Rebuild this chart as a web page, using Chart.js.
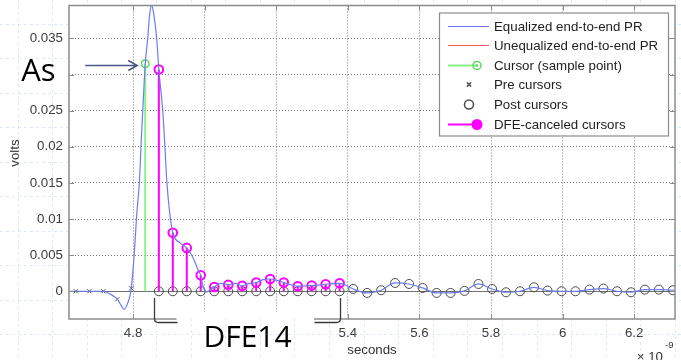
<!DOCTYPE html>
<html>
<head>
<meta charset="utf-8">
<script src="https://cdn.jsdelivr.net/npm/chart.js@4"></script>
<style>
html,body{margin:0;padding:0;background:#fff;}
#wrap{position:relative;width:681px;height:360px;}
</style>
</head>
<body>
<div id="wrap"><canvas id="prChart"></canvas></div>
<script>
// axes
const xTickValues = [4.8, 5, 5.2, 5.4, 5.6, 5.8, 6, 6.2];
const xTickLabels = ['4.8', '5', '5.2', '5.4', '5.6', '5.8', '6', '6.2'];
const yTickValues = [0, 0.005, 0.01, 0.015, 0.02, 0.025, 0.03, 0.035];
const yTickLabels = ['0', '0.005', '0.01', '0.015', '0.02', '0.025', '0.03', '0.035'];
const xRange = [4.621, 6.314];
const yRange = [-0.00384, 0.03956];

// equalized pulse response (ns, volts)
const eqTimes = [4.621, 4.640, 4.678, 4.717, 4.736, 4.756, 4.767, 4.775, 4.786, 4.795, 4.804, 4.810, 4.818,
  4.822, 4.827, 4.834, 4.841, 4.846, 4.852, 4.857, 4.866, 4.872, 4.883, 4.889, 4.894, 4.902, 4.911, 4.931,
  4.950, 4.968, 4.982, 4.989, 4.996, 5.006, 5.015, 5.027, 5.045, 5.066, 5.085, 5.105, 5.124, 5.144, 5.163,
  5.183, 5.202, 5.221, 5.241, 5.260, 5.299, 5.338, 5.377, 5.396, 5.415, 5.454, 5.493, 5.532, 5.571, 5.609,
  5.648, 5.687, 5.726, 5.765, 5.803, 5.842, 5.881, 5.920, 5.958, 5.997, 6.036, 6.075, 6.114, 6.152, 6.191,
  6.230, 6.269, 6.308, 6.320];
const eqVolts = [0, 0, 0, 0, -0.0004, -0.0011, -0.0020, -0.0025, -0.0015, 0.0004, 0.0057, 0.0105, 0.0154,
  0.0200, 0.0249, 0.0315, 0.0350, 0.0382, 0.0396, 0.0386, 0.0350, 0.0307, 0.0249, 0.0200, 0.0154, 0.0110, 0.0081, 0.0067,
  0.0060, 0.0046, 0.0029, 0.0022, 0.0006, -0.0001, 0.0002, 0.0006, 0.0011, 0.0009, 0.0011, 0.00075, 0.0011, 0.0012, 0.0016,
  0.0017, 0.0015, 0.0012, 0.0009, 0.0007, 0.0008, 0.00097, 0.0011, 0.0008, 0.00032, -0.00023, 0.00014, 0.00115, 0.00101, 0.00046,
  -0.00023, -0.00023, 0.00005, 0.00101, 0.00032, -0.00014, 0, 0.00055, 0.00009, 0, 0, 0.00023, 0.00037, 0, -0.00014,
  0.00023, 0.00023, 0.00014, 0.0001];

// sampled cursors
const preTimes = [4.640, 4.678, 4.717, 4.756, 4.795];
const preVolts = [0, 0, 0, -0.0011, 0.0004];
const cursorTimes = [4.834];
const cursorVolts = [0.0315];
const dfeTimes = [4.872, 4.911, 4.950, 4.989, 5.027, 5.066, 5.105, 5.144, 5.183, 5.221, 5.260, 5.299, 5.338, 5.377];
const dfeVolts = [0.0307, 0.0081, 0.0060, 0.0022, 0.0006, 0.0009, 0.00075, 0.0012, 0.0017, 0.0012, 0.0007, 0.0008, 0.00097, 0.0011];
const postTimes = [4.872, 4.911, 4.950, 4.989, 5.027, 5.066, 5.105, 5.144, 5.183, 5.221, 5.260, 5.299, 5.338, 5.377,
  5.415, 5.454, 5.493, 5.532, 5.571, 5.609, 5.648, 5.687, 5.726, 5.765, 5.803, 5.842, 5.881, 5.920, 5.958, 5.997,
  6.036, 6.075, 6.114, 6.152, 6.191, 6.230, 6.269, 6.308];
const postVolts = [0, 0, 0, 0, 0, 0, 0, 0, 0, 0, 0, 0, 0, 0,
  0.00032, -0.00023, 0.00014, 0.00115, 0.00101, 0.00046, -0.00023, -0.00023, 0.00005, 0.00101, 0.00032, -0.00014, 0, 0.00055, 0.00009, 0,
  0, 0.00023, 0.00037, 0, -0.00014, 0.00023, 0.00023, 0.00014];

const pts = (ts, vs) => ts.map((t, i) => ({x: t, y: vs[i]}));
const stems = (ts, vs) => ts.flatMap((t, i) => [{x: t, y: 0}, {x: t, y: vs[i]}, {x: t, y: null}]);
const FONT = '"Liberation Sans", Arial, sans-serif';

const overlay = {
  id: 'overlay',
  beforeDatasetsDraw(chart) {
    const {ctx, chartArea: a, scales: {y}} = chart;
    const y0 = Math.round(y.getPixelForValue(0)) + 0.5;
    ctx.save();
    ctx.strokeStyle = '#707070';
    ctx.lineWidth = 1;
    ctx.beginPath(); ctx.moveTo(a.left, y0); ctx.lineTo(a.right, y0); ctx.stroke();
    ctx.restore();
  },
  afterDraw(chart) {
    const {ctx, chartArea: a, scales: {x, y}} = chart;
    ctx.save();

    // axes box and inward ticks
    ctx.strokeStyle = '#8c8c8c';
    ctx.lineWidth = 1.5;
    ctx.strokeRect(a.left, a.top, a.right - a.left, a.bottom - a.top);
    ctx.lineWidth = 1;
    ctx.beginPath();
    xTickValues.forEach(v => {
      const px = Math.round(x.getPixelForValue(v)) + 0.5;
      ctx.moveTo(px, a.bottom); ctx.lineTo(px, a.bottom - 5);
      ctx.moveTo(px, a.top); ctx.lineTo(px, a.top + 5);
    });
    yTickValues.forEach(v => {
      const py = Math.round(y.getPixelForValue(v)) + 0.5;
      ctx.moveTo(a.left, py); ctx.lineTo(a.left + 5, py);
      ctx.moveTo(a.right, py); ctx.lineTo(a.right - 5, py);
    });
    ctx.stroke();

    // y axis label
    ctx.save();
    ctx.translate(15, 153);
    ctx.rotate(-Math.PI / 2);
    ctx.fillStyle = '#333';
    ctx.font = '13.3px ' + FONT;
    ctx.textAlign = 'center';
    ctx.textBaseline = 'middle';
    ctx.fillText('volts', 0, 0);
    ctx.restore();

    // legend
    const lw = 229, lh = 123, lx = a.right - 7 - lw, ly = a.top + 7;
    ctx.fillStyle = '#fff';
    ctx.fillRect(lx, ly, lw, lh);
    ctx.strokeStyle = '#8c8c8c';
    ctx.lineWidth = 1.2;
    ctx.strokeRect(lx + 0.5, ly + 0.5, lw, lh);
    ctx.font = '13.3px ' + FONT;
    ctx.textBaseline = 'middle';
    ctx.textAlign = 'left';
    chart.data.datasets.forEach((ds, i) => {
      const cy = Math.round(ly + 13 + i * 19.6) + 0.5;
      const x1 = lx + 9, x2 = lx + 50;
      if (ds.showLine !== false) {
        ctx.strokeStyle = ds.borderColor;
        ctx.lineWidth = ds.stem ? ds.borderWidth : 1;
        ctx.beginPath(); ctx.moveTo(x1, cy); ctx.lineTo(ds.stem ? x2 - 12 : x2, cy); ctx.stroke();
      }
      if (ds.stem) {
        const mx = x2 - 12;
        ctx.strokeStyle = ds.pointBorderColor;
        ctx.fillStyle = ds.legendFill;
        ctx.lineWidth = ds.pointBorderWidth;
        ctx.beginPath(); ctx.arc(mx, cy, ds.legendRadius, 0, Math.PI * 2); ctx.fill(); ctx.stroke();
        ctx.fillStyle = ds.pointBorderColor;
        ctx.beginPath(); ctx.arc(mx, cy, 1.3, 0, Math.PI * 2); ctx.fill();
      } else if (ds.showLine === false) {
        ctx.strokeStyle = ds.pointBorderColor;
        ctx.fillStyle = 'rgba(0,0,0,0)';
        Chart.helpers.drawPoint(ctx, {pointStyle: ds.pointStyle, radius: ds.legendRadius, borderWidth: 1, rotation: 0}, lx + 30, cy);
      }
      ctx.fillStyle = '#222';
      ctx.fillText(ds.label, lx + 55, cy + 1);
    });

    // "As" arrow pointing at the main cursor
    const cx = x.getPixelForValue(cursorTimes[0]);
    const cyc = y.getPixelForValue(cursorVolts[0]);
    const tipX = cx - 8, tipY = Math.round(cyc) + 1.5;
    ctx.fillStyle = '#fff';
    ctx.fillRect(tipX - 120, tipY - 16, 50, 38);
    ctx.strokeStyle = '#4d5786';
    ctx.lineWidth = 1.5;
    ctx.beginPath();
    ctx.moveTo(tipX - 52, tipY); ctx.lineTo(tipX, tipY);
    ctx.moveTo(tipX - 9, tipY - 5); ctx.lineTo(tipX, tipY); ctx.lineTo(tipX - 9, tipY + 5);
    ctx.stroke();
    ctx.fillStyle = '#000';
    ctx.font = '31px "Open Sans", sans-serif';
    ctx.textBaseline = 'alphabetic';
    ctx.fillText('As', tipX - 116, tipY + 15);

    // DFE14 bracket
    const xl = Math.round(x.getPixelForValue(dfeTimes[0])) - 4.5;
    const xr = Math.round(x.getPixelForValue(dfeTimes[dfeTimes.length - 1])) + 0.5;
    const yb = a.bottom + 3.5, yt = a.bottom - 21;
    ctx.fillStyle = '#fff';
    ctx.fillRect(xl + 22, a.bottom - 7, xr - xl - 48.5, 60);
    ctx.strokeStyle = '#3a3a3a';
    ctx.lineWidth = 1.3;
    ctx.beginPath();
    ctx.moveTo(xl, yt); ctx.lineTo(xl, yb - 4); ctx.quadraticCurveTo(xl, yb, xl + 4, yb); ctx.lineTo(xl + 23, yb);
    ctx.moveTo(xr - 26, yb); ctx.lineTo(xr - 4, yb); ctx.quadraticCurveTo(xr, yb, xr, yb - 4); ctx.lineTo(xr, yt);
    ctx.stroke();
    ctx.fillStyle = '#000';
    ctx.font = '30px "Open Sans", sans-serif';
    ctx.textAlign = 'center';
    ctx.fillText('DFE14', (xl + xr) / 2, a.bottom + 28);

    // exponent of the x axis
    ctx.fillStyle = '#333';
    ctx.textAlign = 'right';
    ctx.font = '13.3px ' + FONT;
    ctx.fillText('\u00d7 10', a.right - 12, 361);
    ctx.textAlign = 'left';
    ctx.font = '9.5px ' + FONT;
    ctx.fillText('-9', a.right - 10, 348);

    // faint slide grid outside the axes
    ctx.beginPath();
    ctx.rect(0, 0, chart.width, chart.height);
    ctx.rect(a.left, a.top, a.right - a.left, a.bottom - a.top);
    ctx.clip('evenodd');
    ctx.strokeStyle = 'rgba(150,180,230,0.3)';
    ctx.setLineDash([3, 3]);
    ctx.lineWidth = 1;
    ctx.beginPath();
    for (let gx = 17.5; gx < chart.width; gx += 34.6) { ctx.moveTo(Math.round(gx) + 0.5, 0); ctx.lineTo(Math.round(gx) + 0.5, chart.height); }
    for (let gy = 23.5; gy < chart.height; gy += 34.5) { ctx.moveTo(0, Math.round(gy) + 0.5); ctx.lineTo(chart.width, Math.round(gy) + 0.5); }
    ctx.stroke();
    ctx.restore();
  }
};

const circleR = c => (c.dataIndex % 3 === 1 ? 4.3 : 0);

new Chart(document.getElementById('prChart'), {
  type: 'line',
  data: {
    datasets: [
      {label: 'Equalized end-to-end PR', data: pts(eqTimes, eqVolts), borderColor: '#6b7cf2', borderWidth: 1.2,
        pointRadius: 0, cubicInterpolationMode: 'monotone', order: 0},
      {label: 'Unequalized end-to-end PR', data: [], borderColor: '#ff5a5a', borderWidth: 1.2, pointRadius: 0, order: 5},
      {label: 'Cursor (sample point)', data: stems(cursorTimes, cursorVolts), borderColor: '#8aee8a', borderWidth: 2,
        pointRadius: c => (c.dataIndex % 3 === 1 ? 3.8 : 0), pointBorderColor: '#5cd65c', pointBorderWidth: 1.5,
        pointBackgroundColor: 'rgba(0,0,0,0)', stem: true, legendRadius: 4, legendFill: 'rgba(0,0,0,0)', order: 2},
      {label: 'Pre cursors', data: pts(preTimes, preVolts), showLine: false, pointStyle: 'crossRot', pointRadius: 3,
        pointBorderColor: '#555', pointBorderWidth: 1, legendRadius: 3, order: 4},
      {label: 'Post cursors', data: pts(postTimes, postVolts), showLine: false, pointStyle: 'circle', pointRadius: 4.5,
        pointBorderColor: '#4a4a4a', pointBorderWidth: 1, pointBackgroundColor: 'rgba(0,0,0,0)', legendRadius: 4.5, order: 3},
      {label: 'DFE-canceled cursors', data: stems(dfeTimes, dfeVolts), borderColor: '#ff00ff', borderWidth: 2,
        pointRadius: circleR, pointBorderColor: '#ff00ff', pointBorderWidth: 2, pointBackgroundColor: 'rgba(0,0,0,0)',
        stem: true, legendRadius: 4.5, legendFill: '#ff00ff', order: 1}
    ]
  },
  options: {
    responsive: true,
    maintainAspectRatio: false,
    animation: false,
    events: [],
    layout: {padding: {left: 0, right: 6, top: 5, bottom: 0}},
    plugins: {legend: {display: false}, tooltip: {enabled: false}},
    scales: {
      x: {
        type: 'linear', min: xRange[0], max: xRange[1],
        afterFit: s => { s.height = 41; s.paddingLeft = 0; s.paddingRight = 0; },
        afterBuildTicks: s => { s.ticks = xTickValues.map(v => ({value: v})); },
        ticks: {autoSkip: false, maxRotation: 0, padding: 6, color: '#3a3a3a', font: {family: FONT, size: 13.3},
          callback: (v, i) => xTickLabels[i]},
        grid: {color: '#7a7a7a', lineWidth: 1, drawTicks: false},
        border: {display: false, dash: [1, 2]},
        title: {display: true, text: 'seconds', color: '#333', font: {family: FONT, size: 13.3}, padding: {top: 0, bottom: 2}}
      },
      y: {
        min: yRange[0], max: yRange[1],
        afterFit: s => { s.width = 69; s.paddingTop = 0; s.paddingBottom = 0; },
        afterBuildTicks: s => { s.ticks = yTickValues.map(v => ({value: v})); },
        ticks: {padding: 6, color: '#3a3a3a', font: {family: FONT, size: 13.3},
          callback: (v, i) => yTickLabels[i]},
        grid: {color: '#7a7a7a', lineWidth: 1, drawTicks: false},
        border: {display: false, dash: [1, 2]},
        title: {display: false}
      }
    }
  },
  plugins: [overlay]
});
</script>
</body>
</html>
